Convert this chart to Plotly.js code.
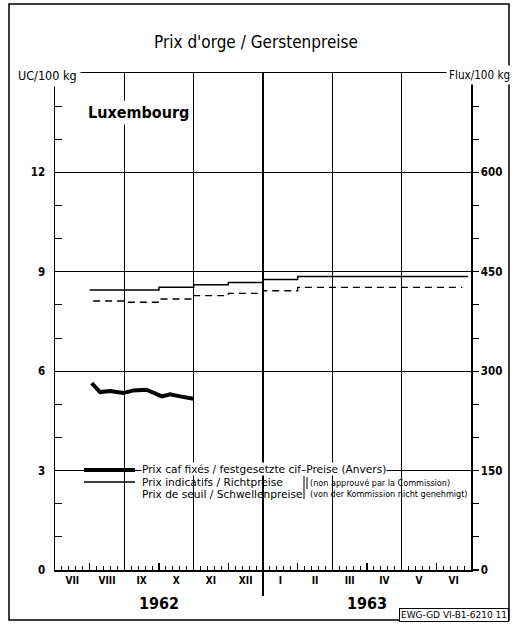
<!DOCTYPE html>
<html><head><meta charset="utf-8">
<script src="https://cdn.plot.ly/plotly-3.0.1.min.js"></script>
<style>html,body{margin:0;padding:0;background:#fff}#chart{width:515px;height:624px}</style>
</head><body><div id="chart"></div>
<script>
// Month axis: index 0 = VII 1962 ... 11 = VI 1963
const monthLabels = ['VII','VIII','IX','X','XI','XII','I','II','III','IV','V','VI'];
const yearLabels = ['1962','1963'];
const leftTicks = [0, 3, 6, 9, 12];
const rightTicks = [0, 150, 300, 450, 600];

// Prix indicatifs / Richtpreise (UC/100 kg), step values
const richtMonth = [1, 2, 3, 4, 5, 6, 7, 8, 9, 10, 11, 11.92];
const richtPrice = [8.45, 8.45, 8.53, 8.61, 8.68, 8.77, 8.86, 8.86, 8.86, 8.86, 8.86, 8.86];

// Prix de seuil / Schwellenpreise (UC/100 kg), step values
const seuilMonth = [1.1, 2, 3, 4, 5, 6, 7, 8, 9, 10, 11, 11.75];
const seuilPrice = [8.12, 8.08, 8.18, 8.28, 8.35, 8.43, 8.53, 8.53, 8.53, 8.53, 8.53, 8.53];

// Prix caf fixés / festgesetzte cif-Preise (Anvers)
const cafMonth = [1.06, 1.30, 1.59, 1.97, 2.26, 2.64, 3.08, 3.32, 3.61, 3.99];
const cafPrice = [5.64, 5.37, 5.40, 5.34, 5.42, 5.44, 5.24, 5.30, 5.24, 5.17];

const legendNames = [
  'Prix caf fixés / festgesetzte cif\u2013Preise (Anvers)',
  'Prix indicatifs / Richtpreise',
  'Prix de seuil / Schwellenpreise'
];

const FONT = '"DejaVu Sans Condensed", "DejaVu Sans", sans-serif';
const FONTW = '"DejaVu Sans", sans-serif';

const traces = [
  {x: seuilMonth, y: seuilPrice, type: 'scatter', mode: 'lines', line: {shape: 'hv', color: '#000', width: 1.4, dash: '7px,5px'}, name: legendNames[2], showlegend: false, hoverinfo: 'skip'},
  {x: richtMonth, y: richtPrice, type: 'scatter', mode: 'lines', line: {shape: 'hv', color: '#000', width: 1.5}, name: legendNames[1], showlegend: false, hoverinfo: 'skip'},
  {x: cafMonth, y: cafPrice, type: 'scatter', mode: 'lines', line: {color: '#000', width: 4}, name: legendNames[0], showlegend: false, hoverinfo: 'skip'},
  // empty traces that register the overlay axes (ticks, grid, right-hand scale)
  {x: [], y: [], type: 'scatter', mode: 'lines', xaxis: 'x2', yaxis: 'y', showlegend: false, hoverinfo: 'skip'},
  {x: [], y: [], type: 'scatter', mode: 'lines', xaxis: 'x3', yaxis: 'y', showlegend: false, hoverinfo: 'skip'},
  {x: [], y: [], type: 'scatter', mode: 'lines', xaxis: 'x', yaxis: 'y2', showlegend: false, hoverinfo: 'skip'}
];

const L = 55, T = 73, W = 416, H = 497;
const px = v => (v - L) / W;
const py = v => (T + H - v) / H;

const annotations = [
  {text: 'UC/100 kg', xref: 'paper', yref: 'paper', x: px(14), y: py(75), xanchor: 'left', yanchor: 'middle', showarrow: false, bgcolor: '#fff', borderpad: 3, font: {family: FONT, size: 12.5, color: '#000'}},
  {text: 'Flux/100 kg', xref: 'paper', yref: 'paper', x: px(446), y: py(75), xanchor: 'left', yanchor: 'middle', showarrow: false, bgcolor: '#fff', borderpad: 2, font: {family: FONT, size: 11.6, color: '#000'}},
  {text: '<b>Luxembourg</b>', xref: 'paper', yref: 'paper', x: px(85), y: py(113), xanchor: 'left', yanchor: 'middle', showarrow: false, bgcolor: '#fff', borderpad: 2, font: {family: FONT, size: 16, color: '#000'}},
  {text: legendNames[0], xref: 'paper', yref: 'paper', x: px(141), y: py(469), xanchor: 'left', yanchor: 'middle', showarrow: false, bgcolor: '#fff', borderpad: 0, font: {family: FONTW, size: 10.6, color: '#000'}},
  {text: legendNames[1], xref: 'paper', yref: 'paper', x: px(141), y: py(481.5), xanchor: 'left', yanchor: 'middle', showarrow: false, borderpad: 0, font: {family: FONTW, size: 10.6, color: '#000'}},
  {text: legendNames[2], xref: 'paper', yref: 'paper', x: px(141), y: py(494), xanchor: 'left', yanchor: 'middle', showarrow: false, borderpad: 0, font: {family: FONTW, size: 10.6, color: '#000'}},
  {text: '(non approuvé par la Commission)', xref: 'paper', yref: 'paper', x: px(309), y: py(482.5), xanchor: 'left', yanchor: 'middle', showarrow: false, borderpad: 0, font: {family: FONT, size: 9, color: '#000'}},
  {text: '(von der Kommission nicht genehmigt)', xref: 'paper', yref: 'paper', x: px(309), y: py(494), xanchor: 'left', yanchor: 'middle', showarrow: false, borderpad: 0, font: {family: FONT, size: 9, color: '#000'}},
  {text: 'EWG-GD VI-B1-6210 11', xref: 'paper', yref: 'paper', x: px(509), y: py(615), xanchor: 'right', yanchor: 'middle', showarrow: false, bgcolor: '#fff', bordercolor: '#000', borderwidth: 1, borderpad: 1, font: {family: FONTW, size: 9, color: '#000'}}
];
yearLabels.forEach((t, i) => annotations.push({
  text: '<b>' + t + '</b>', xref: 'x', yref: 'paper', x: 3 + 6 * i, y: py(603), xanchor: 'center', yanchor: 'middle', showarrow: false, font: {family: FONT, size: 16, color: '#000'}
}));

const shapes = [
  // outer frame
  {type: 'rect', xref: 'paper', yref: 'paper', x0: px(9), x1: px(509), y0: py(620), y1: py(4), line: {color: '#000', width: 1.5}},
  // year separator
  {type: 'line', xref: 'x', yref: 'paper', x0: 6, x1: 6, y0: py(596), y1: 1, line: {color: '#000', width: 2}},
  // legend samples
  {type: 'line', xref: 'paper', yref: 'paper', x0: px(84), x1: px(135), y0: py(470), y1: py(470), line: {color: '#000', width: 4}},
  {type: 'line', xref: 'paper', yref: 'paper', x0: px(84), x1: px(135), y0: py(482), y1: py(482), line: {color: '#000', width: 1.3}},
  // brackets
  {type: 'line', xref: 'paper', yref: 'paper', x0: px(304), x1: px(304), y0: py(476), y1: py(499), line: {color: '#000', width: 1}},
  {type: 'line', xref: 'paper', yref: 'paper', x0: px(307), x1: px(307), y0: py(477), y1: py(489), line: {color: '#000', width: 1}}
];

const layout = {
  width: 515, height: 624,
  margin: {l: L, r: 515 - L - W, t: T, b: 624 - T - H, pad: 0},
  paper_bgcolor: '#fff', plot_bgcolor: '#fff',
  font: {family: FONT, color: '#000'},
  showlegend: false,
  title: {text: "Prix d'orge / Gerstenpreise", xref: 'paper', x: px(256), xanchor: 'center', yref: 'container', y: 1 - 42 / 624, yanchor: 'middle', font: {family: FONT, size: 17, color: '#000'}},
  xaxis: {range: [0, 12], tickmode: 'array', tickvals: monthLabels.map((_, i) => i + 0.5), ticktext: monthLabels.map(m => '<b>' + m + '</b>'),
          ticks: '', showgrid: false, zeroline: false, showline: true, mirror: true, linecolor: '#000', linewidth: 1.5,
          tickfont: {family: FONT, size: 10, color: '#000'}, fixedrange: true},
  xaxis2: {overlaying: 'x', anchor: 'y', side: 'bottom', range: [0, 12], tickmode: 'array', tickvals: [0,1,2,3,4,5,6,7,8,9,10,11,12], ticks: 'inside', ticklen: 7, tickwidth: 1.2, tickcolor: '#000',
           showticklabels: false, showgrid: false, zeroline: false, showline: false,
           minor: {ticks: 'inside', ticklen: 4, tickwidth: 1, tickcolor: '#000', tickmode: 'linear', tick0: 0, dtick: 0.2, showgrid: false}},
  xaxis3: {overlaying: 'x', anchor: 'y', side: 'bottom', range: [0, 12], tickmode: 'array', tickvals: [2, 4, 6, 8, 10], ticks: '', showticklabels: false,
           showgrid: true, gridcolor: '#000', gridwidth: 1.1, zeroline: false, showline: false},
  yaxis: {range: [0, 15], tickmode: 'array', tickvals: leftTicks, ticktext: leftTicks.map(v => '<b>' + v + '</b>'), ticks: '', ticklabelstandoff: 6,
          showgrid: true, gridcolor: '#000', gridwidth: 1, zeroline: false, showline: true, linecolor: '#000', linewidth: 1.5,
          tickfont: {family: FONT, size: 11.5, color: '#000'}, fixedrange: true,
          minor: {ticks: 'inside', ticklen: 7, tickwidth: 1, tickcolor: '#000', tickmode: 'linear', tick0: 0, dtick: 1, showgrid: false}},
  yaxis2: {overlaying: 'y', side: 'right', anchor: 'x', range: [0, 750], tickmode: 'array', tickvals: rightTicks, ticktext: rightTicks.map(v => '<b>' + v + '</b>'),
           ticks: 'outside', ticklen: 6, tickwidth: 1.2, tickcolor: '#000', showgrid: false, zeroline: false, showline: true, linecolor: '#000', linewidth: 1.5,
           tickfont: {family: FONT, size: 11.5, color: '#000'},
           minor: {ticks: 'outside', ticklen: 6, tickwidth: 1, tickcolor: '#000', tickmode: 'linear', tick0: 0, dtick: 50, showgrid: false}},
  annotations: annotations,
  shapes: shapes
};

Plotly.newPlot('chart', traces, layout, {staticPlot: true, displayModeBar: false});
</script>
</body></html>
